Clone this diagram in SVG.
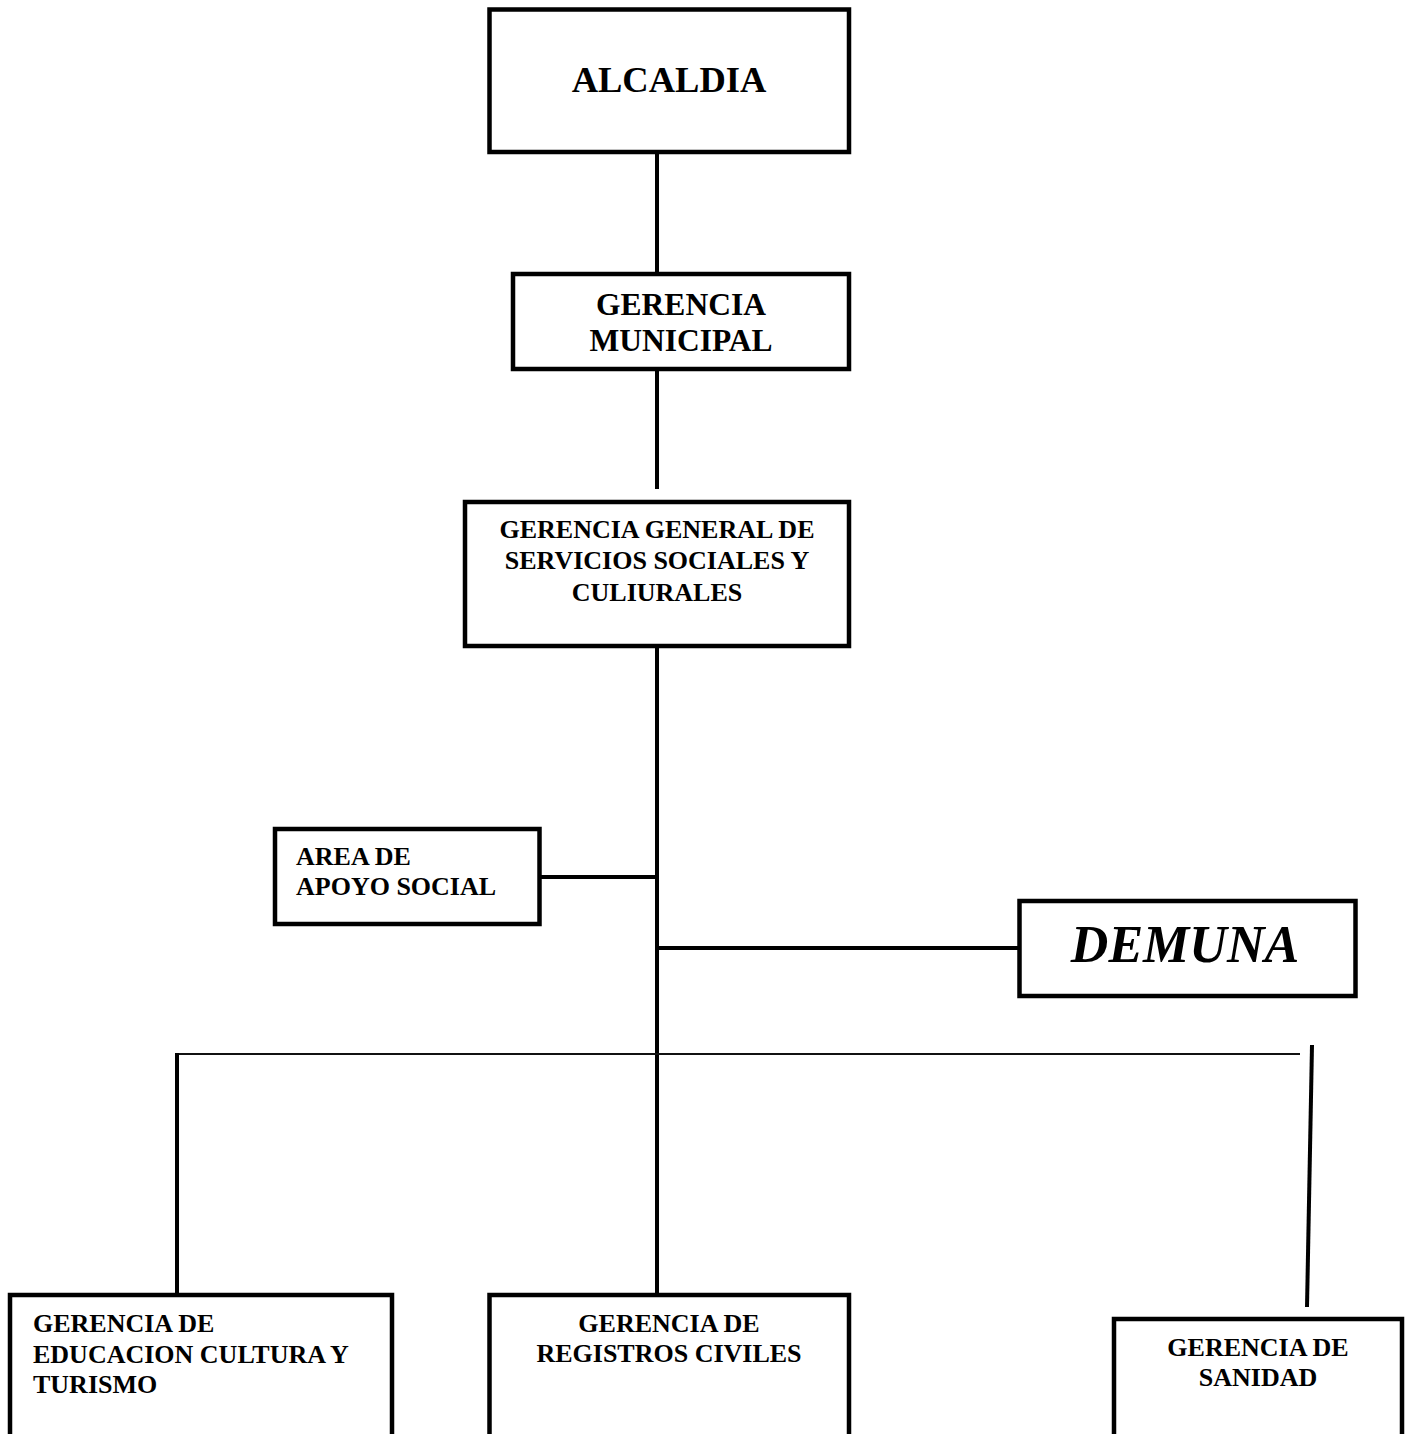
<svg xmlns="http://www.w3.org/2000/svg" width="1409" height="1434" viewBox="0 0 1409 1434">
<style>
.box{fill:#fff;stroke:#000;stroke-width:4.5}
.t{font-family:"Liberation Serif","Times New Roman",serif;font-weight:bold;fill:#000}
.c{stroke:#000;stroke-width:4;fill:none}
.thin{stroke:#111;stroke-width:2;fill:none}
</style>
<rect width="1409" height="1434" fill="#fff"/>
<g id="connectors">
<line class="c" x1="657" y1="152" x2="657" y2="274"/>
<line class="c" x1="657" y1="369" x2="657" y2="489"/>
<line class="c" x1="657" y1="646" x2="657" y2="1295"/>
<line class="c" x1="539" y1="877" x2="657" y2="877"/>
<line class="c" x1="657" y1="948" x2="1019" y2="948"/>
<line class="thin" x1="176" y1="1054" x2="1300" y2="1054"/>
<line class="c" x1="177" y1="1053" x2="177" y2="1295"/>
<line class="c" x1="1312" y1="1045" x2="1307" y2="1307"/>
</g>
<g id="alcaldia">
<rect class="box" x="489.5" y="9.5" width="359.5" height="142.5"/>
<text class="t" x="669" y="92" font-size="36.5" text-anchor="middle">ALCALDIA</text>
</g>
<g id="gerencia-municipal">
<rect class="box" x="513" y="274" width="336" height="95"/>
<text class="t" x="681" y="315" font-size="31.5" text-anchor="middle">GERENCIA</text>
<text class="t" x="681" y="351" font-size="31.5" text-anchor="middle">MUNICIPAL</text>
</g>
<g id="gerencia-general">
<rect class="box" x="465" y="502" width="384" height="144"/>
<text class="t" x="657" y="538" font-size="26" text-anchor="middle">GERENCIA GENERAL DE</text>
<text class="t" x="657" y="569" font-size="26" text-anchor="middle">SERVICIOS SOCIALES Y</text>
<text class="t" x="657" y="601" font-size="26" text-anchor="middle">CULIURALES</text>
</g>
<g id="area-apoyo-social">
<rect class="box" x="275" y="829" width="264.5" height="95"/>
<text class="t" x="296" y="865" font-size="26">AREA DE</text>
<text class="t" x="296" y="895" font-size="26">APOYO SOCIAL</text>
</g>
<g id="demuna">
<rect class="box" x="1019.5" y="901" width="336" height="95"/>
<text class="t" x="1185" y="962" font-size="52" font-style="italic" text-anchor="middle">DEMUNA</text>
</g>
<g id="gerencia-educacion">
<rect class="box" x="10" y="1295" width="382" height="160"/>
<text class="t" x="33" y="1332" font-size="26">GERENCIA DE</text>
<text class="t" x="33" y="1363" font-size="26">EDUCACION CULTURA Y</text>
<text class="t" x="33" y="1393" font-size="26">TURISMO</text>
</g>
<g id="gerencia-registros">
<rect class="box" x="489.5" y="1295" width="359.5" height="160"/>
<text class="t" x="669" y="1332" font-size="26" text-anchor="middle">GERENCIA DE</text>
<text class="t" x="669" y="1362" font-size="26" text-anchor="middle">REGISTROS CIVILES</text>
</g>
<g id="gerencia-sanidad">
<rect class="box" x="1114" y="1319" width="288" height="140"/>
<text class="t" x="1258" y="1356" font-size="26" text-anchor="middle">GERENCIA DE</text>
<text class="t" x="1258" y="1386" font-size="26" text-anchor="middle">SANIDAD</text>
</g>
</svg>
